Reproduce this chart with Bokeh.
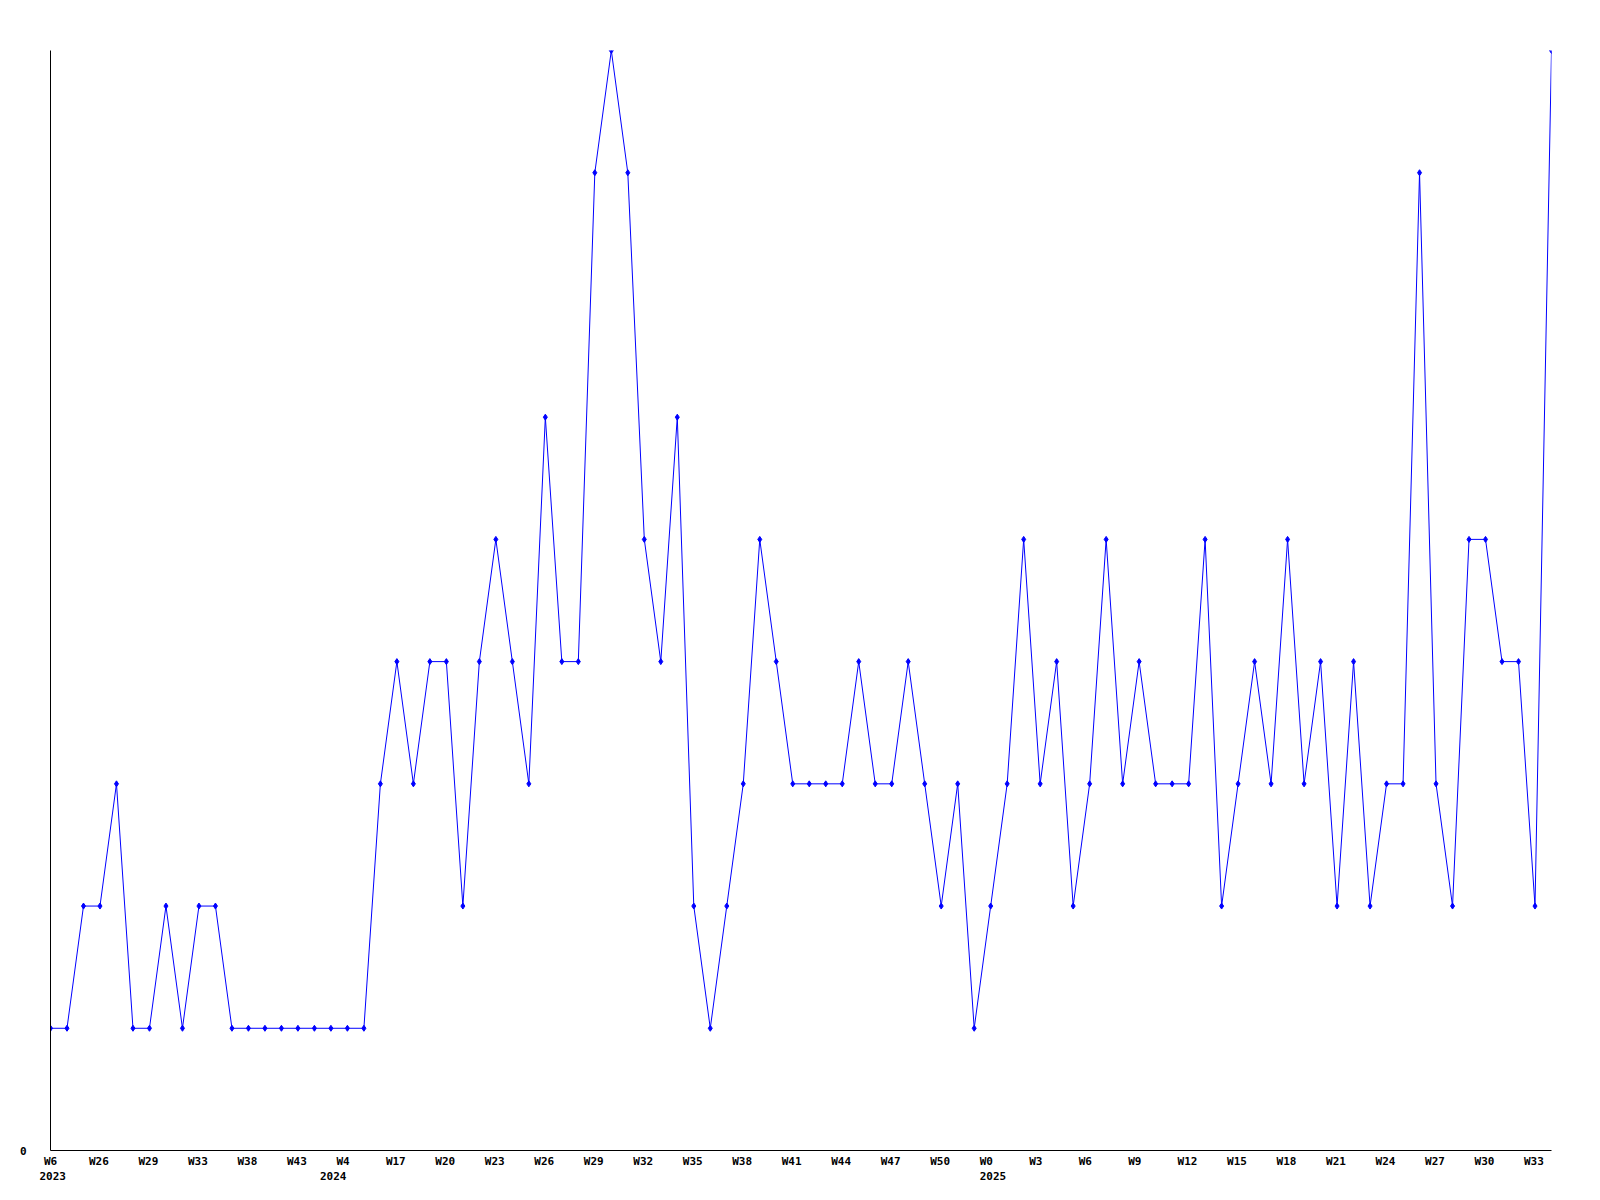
from bokeh.plotting import figure
from bokeh.models import Range1d, FixedTicker, LinearAxis
from bokeh.embed import file_html
from bokeh.resources import INLINE

# weekly counts (one point per week present in the data)
values = [1, 1, 2, 2, 3, 1, 1, 2, 1, 2,
          2, 1, 1, 1, 1, 1, 1, 1, 1, 1,
          3, 4, 3, 4, 4, 2, 4, 5, 4, 3,
          6, 4, 4, 8, 9, 8, 5, 4, 6, 2,
          1, 2, 3, 5, 4, 3, 3, 3, 3, 4,
          3, 3, 4, 3, 2, 3, 1, 2, 3, 5,
          3, 4, 2, 3, 5, 3, 4, 3, 3, 3,
          5, 2, 3, 4, 3, 5, 3, 4, 2, 4,
          2, 3, 3, 8, 3, 2, 5, 5, 4, 4,
          2, 9]

week_labels = ["W6", "W26", "W29", "W33", "W38", "W43", "W4", "W17", "W20", "W23",
               "W26", "W29", "W32", "W35", "W38", "W41", "W44", "W47", "W50", "W0",
               "W3", "W6", "W9", "W12", "W15", "W18", "W21", "W24", "W27", "W30", "W33"]
week_step = 3
year_labels = ["2023", "2024", "2025"]
year_index = [0, 17, 57]

x = list(range(len(values)))

FRAME_W, FRAME_H = 1501, 1100
px_per_unit = FRAME_W / (len(values) - 1)
CHAR_W = 6.62
LEFT_SHIFT = 11.0


def tick_pos(idx, label):
    # labels are left-aligned a little left of the point; axis centres labels
    pos = idx + (-LEFT_SHIFT + len(label) * CHAR_W / 2) / px_per_unit
    return max(0.0, pos)


p = figure(frame_width=FRAME_W, frame_height=FRAME_H,
           output_backend="svg", toolbar_location=None,
           x_range=Range1d(0, len(values) - 1), y_range=Range1d(0, max(values)),
           min_border_left=50, min_border_top=50, min_border_right=40,
           min_border_bottom=10, x_axis_location=None, y_axis_location=None)
p.outline_line_color = None
p.xgrid.visible = False
p.ygrid.visible = False
p.background_fill_color = "white"
p.border_fill_color = "white"

FONT = "DejaVu Sans Mono"

# week axis
wk_idx = [i * week_step for i in range(len(week_labels))]
wk_pos = [tick_pos(i, l) for i, l in zip(wk_idx, week_labels)]
xa = LinearAxis(ticker=FixedTicker(ticks=wk_pos),
                major_label_overrides={pos: l for pos, l in zip(wk_pos, week_labels)})
# year axis
yr_pos = [tick_pos(i, l) for i, l in zip(year_index, year_labels)]
xa2 = LinearAxis(ticker=FixedTicker(ticks=yr_pos),
                 major_label_overrides={pos: l for pos, l in zip(yr_pos, year_labels)})
for ax, standoff in ((xa, 4), (xa2, 1)):
    ax.major_tick_out = 0
    ax.major_tick_in = 0
    ax.minor_tick_out = 0
    ax.minor_tick_in = 0
    ax.major_label_standoff = standoff
    ax.major_label_text_font = FONT
    ax.major_label_text_font_style = "bold"
    ax.major_label_text_font_size = "11px"
    ax.major_label_text_color = "black"
xa.axis_line_color = "black"
xa.axis_line_width = 1
xa2.axis_line_color = None
p.add_layout(xa, "below")
p.add_layout(xa2, "below")

ya = LinearAxis(ticker=FixedTicker(ticks=[0]))
ya.major_tick_out = 0
ya.major_tick_in = 0
ya.minor_tick_out = 0
ya.minor_tick_in = 0
ya.major_label_standoff = 24
ya.major_label_text_font = FONT
ya.major_label_text_font_style = "bold"
ya.major_label_text_font_size = "11px"
ya.major_label_text_color = "black"
ya.axis_line_color = "black"
ya.axis_line_width = 1
p.add_layout(ya, "left")

p.line(x, values, line_color="#0000ff", line_width=1)
p.scatter(x, values, marker="diamond", size=6, fill_color="#0000ff",
          line_color="#0000ff", line_width=1)

open("out.html", "w").write(file_html(p, INLINE))
